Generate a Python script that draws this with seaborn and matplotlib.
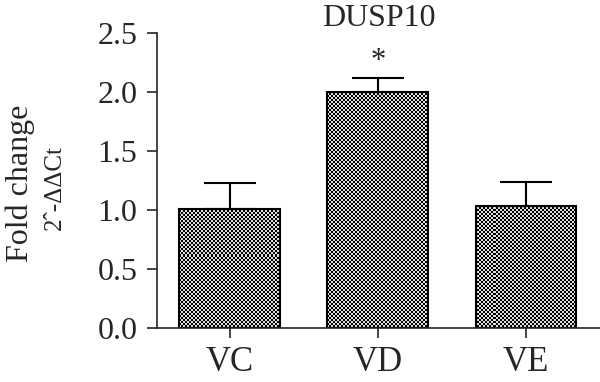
import numpy as np
import pandas as pd
import seaborn as sns
import matplotlib.pyplot as plt

# values
groups = ['VC', 'VD', 'VE']
fold_change = [1.01, 2.00, 1.03]
err_up = [0.22, 0.12, 0.21]
signif = ['', '*', '']

sns.set_style('ticks')
plt.rcParams['font.family'] = ['Liberation Serif', 'DejaVu Serif']

df = pd.DataFrame({'group': groups, 'fc': fold_change})

fig = plt.figure(figsize=(6, 3.82), dpi=100)
ax = fig.add_axes([157 / 600, 54 / 382, 443 / 600, 295 / 382])

sns.barplot(data=df, x='group', y='fc', color='white', edgecolor='black',
            linewidth=1.5, width=0.68, ax=ax)

# upper-only error bars
ax.errorbar(range(len(groups)), fold_change, yerr=[np.zeros(len(groups)), err_up],
            fmt='none', ecolor='black', elinewidth=1.5, capsize=19, capthick=1.5)

# checkerboard fill, clipped to each bar
h_px, w_px = 295, 443
yy, xx = np.mgrid[0:h_px, 0:w_px]
checker = (((yy // 2) + (xx // 2)) % 2).astype(float)
for patch in ax.patches:
    im = ax.imshow(checker, cmap='gray', vmin=0, vmax=1.15, extent=(-0.49, 2.5, 0, 2.5),
                   aspect='auto', interpolation='nearest', zorder=patch.get_zorder())
    im.set_clip_path(patch)
    patch.set_zorder(patch.get_zorder() + 0.1)
    patch.set_facecolor('none')
ax.set_xlim(-0.49, 2.5)
ax.set_ylim(0, 2.5)

for i, s in enumerate(signif):
    if s:
        ax.text(i, fold_change[i] + err_up[i] + 0.14, s, ha='center', va='center', fontsize=22)

ax.set_yticks([0, 0.5, 1.0, 1.5, 2.0, 2.5])
ax.set_yticklabels(['0.0', '0.5', '1.0', '1.5', '2.0', '2.5'])
ax.tick_params(axis='y', labelsize=23, length=7, width=1.2, pad=7)
ax.tick_params(axis='x', labelsize=25, length=7, width=1.2, pad=6)
for sp in ['left', 'bottom']:
    ax.spines[sp].set_linewidth(1.2)
sns.despine(ax=ax)

ax.set_xlabel('')
ax.set_ylabel('')
ax.set_title('DUSP10', fontsize=23, pad=5)

fig.text(20 / 600, 0.52, 'Fold change', rotation=90, ha='center', va='center', fontsize=23)
fig.text(55 / 600, 0.51, '2ˆ-ΔΔCt', rotation=90, ha='center', va='center', fontsize=18)

fig.savefig('out.png', dpi=100)
